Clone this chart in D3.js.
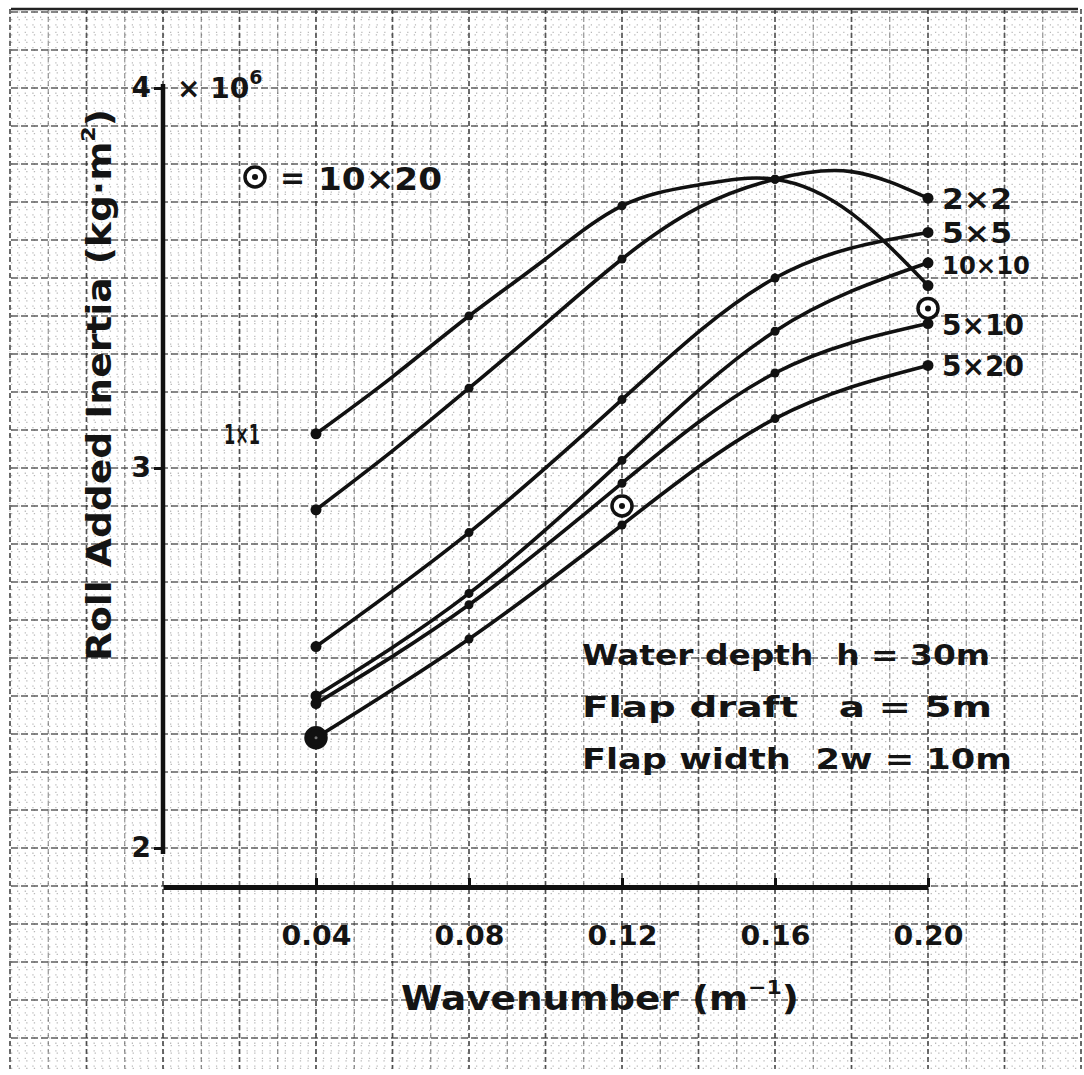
<!DOCTYPE html>
<html>
<head>
<meta charset="utf-8">
<script src="https://cdn.jsdelivr.net/npm/d3@7/dist/d3.min.js"></script>
<style>
  body { margin: 0; background: #fff; }
  svg { display: block; }
  text { font-family: 'DejaVu Sans', sans-serif; font-weight: bold; fill: #141414; }
</style>
</head>
<body>
<div class="chart"></div>
<script>
const width = 1084, height = 1075

// wavenumber (1/m)
const kMain = [0.04, 0.08, 0.12, 0.16, 0.20]
const kFine = [0.04, 0.06, 0.08, 0.10, 0.12, 0.14, 0.16, 0.18, 0.20]
const xTicks = [0.04, 0.08, 0.12, 0.16, 0.20]
const xTickLabels = ['0.04', '0.08', '0.12', '0.16', '0.20']
const yTicks = [2, 3, 4]
const yTickLabels = ['2', '3', '4']

// roll added inertia (x 10^6 kg m^2)
const inertia1x1 = [3.09, 3.24, 3.40, 3.55, 3.69, 3.745, 3.76, 3.67, 3.48]
const inertia2x2 = [2.89, 3.045, 3.21, 3.38, 3.55, 3.685, 3.76, 3.78, 3.71]
const inertia5x5 = [2.53, 2.83, 3.18, 3.50, 3.62]
const inertia10x10 = [2.40, 2.67, 3.02, 3.36, 3.54]
const inertia5x10 = [2.38, 2.64, 2.96, 3.25, 3.38]
const inertia5x20 = [2.29, 2.55, 2.85, 3.13, 3.27]

// 10x20 case only marked with circles
const k10x20 = [0.04, 0.12, 0.20]
const inertia10x20 = [2.29, 2.90, 3.42]

const notes = ['Water depth  h = 30m', 'Flap draft   a = 5m', 'Flap width  2w = 10m']

const series = [
    { name: '1×1', k: kFine, v: inertia1x1, side: 'left' },
    { name: '2×2', k: kFine, v: inertia2x2, side: 'right' },
    { name: '5×5', k: kMain, v: inertia5x5, side: 'right' },
    { name: '10×10', k: kMain, v: inertia10x10, side: 'right' },
    { name: '5×10', k: kMain, v: inertia5x10, side: 'right' },
    { name: '5×20', k: kMain, v: inertia5x20, side: 'right' }
]

const svg = d3.select('.chart').append('svg')
    .attr('width', width)
    .attr('height', height)

svg.append('rect').attr('width', width).attr('height', height).attr('fill', '#fff')

const x = d3.scaleLinear().domain([0, 0.2]).range([163, 928])
const y = d3.scaleLinear().domain([2, 4]).range([848, 88])

// graph paper
const paper = svg.append('g').attr('class', 'paper')
const paperLeft = 11, paperRight = 1078, paperTop = 9, paperBottom = 1069

const minorX = d3.range(-0.04, 0.2401, 0.002).map(x)
const minorY = d3.range(1.42, 4.201, 0.02).map(y)
paper.selectAll('.minor-v').data(minorX).enter().append('line')
    .attr('x1', d => d).attr('x2', d => d)
    .attr('y1', paperTop).attr('y2', paperBottom)
    .attr('stroke', '#888').attr('stroke-width', 1.2)
    .attr('stroke-opacity', 0.6)
    .attr('stroke-dasharray', '1.3,6.3')
paper.selectAll('.minor-h').data(minorY).enter().append('line')
    .attr('y1', d => d).attr('y2', d => d)
    .attr('x1', paperLeft).attr('x2', paperRight)
    .attr('stroke', '#888').attr('stroke-width', 1.2)
    .attr('stroke-opacity', 0.6)
    .attr('stroke-dasharray', '1.3,6.3')

const majorX = d3.range(-0.04, 0.2401, 0.01)
paper.selectAll('.major-v').data(majorX).enter().append('line')
    .attr('x1', d => x(d)).attr('x2', d => x(d))
    .attr('y1', paperTop).attr('y2', paperBottom)
    .attr('stroke', '#2a2a2a')
    .attr('stroke-width', (d, i) => i % 2 === 0 ? 1.7 : 1.1)
    .attr('stroke-opacity', (d, i) => i % 2 === 0 ? 0.8 : 0.55)
    .attr('stroke-dasharray', '5,3')
const majorY = d3.range(1.5, 4.201, 0.1)
paper.selectAll('.major-h').data(majorY).enter().append('line')
    .attr('y1', d => y(d)).attr('y2', d => y(d))
    .attr('x1', paperLeft).attr('x2', paperRight)
    .attr('stroke', '#2a2a2a').attr('stroke-width', 1.6)
    .attr('stroke-opacity', 0.75)
    .attr('stroke-dasharray', '7,3')
paper.append('line')
    .attr('x1', paperLeft).attr('x2', paperRight).attr('y1', paperTop).attr('y2', paperTop)
    .attr('stroke', '#222').attr('stroke-width', 2.5)

// axes
const xAxisY = y(2) + 39
const xAxis = svg.append('g')
    .attr('transform', `translate(0,${xAxisY})`)
    .call(d3.axisBottom(x).tickValues(xTicks)
        .tickFormat((d, i) => xTickLabels[i])
        .tickSizeInner(-9).tickSizeOuter(0).tickPadding(40))
xAxis.select('.domain').attr('stroke', '#111').attr('stroke-width', 5)
xAxis.selectAll('.tick line').attr('stroke', '#111').attr('stroke-width', 3)
xAxis.selectAll('.tick text')
    .attr('font-family', 'DejaVu Sans').attr('font-weight', 'bold')
    .attr('font-size', 26).attr('fill', '#141414')
    .attr('textLength', 70).attr('lengthAdjust', 'spacingAndGlyphs')

const yAxis = svg.append('g')
    .attr('transform', `translate(${x(0)},0)`)
    .call(d3.axisLeft(y).tickValues(yTicks)
        .tickFormat((d, i) => yTickLabels[i])
        .tickSizeInner(9).tickSizeOuter(0).tickPadding(3))
yAxis.select('.domain').attr('stroke', '#111').attr('stroke-width', 4.5)
    .attr('d', `M0,${y(4) - 4}V${y(2) + 6}`)
yAxis.selectAll('.tick line').attr('stroke', '#111').attr('stroke-width', 3)
yAxis.selectAll('.tick text')
    .attr('font-family', 'DejaVu Sans').attr('font-weight', 'bold')
    .attr('font-size', 28).attr('fill', '#141414')

// x 10^6 next to the top tick
const mult = svg.append('text')
    .attr('x', x(0) + 14).attr('y', y(4) + 10)
    .attr('font-size', 28)
mult.append('tspan').text('× 10')
mult.append('tspan').text('6').attr('font-size', 19).attr('dy', -14)

// axis titles
const yTitle = svg.append('text')
    .attr('transform', `translate(111,385) rotate(-90)`)
    .attr('text-anchor', 'middle')
    .attr('font-size', 34)
    .attr('textLength', 552).attr('lengthAdjust', 'spacingAndGlyphs')
yTitle.append('tspan').text('Roll  Added  Inertia  (kg·m')
yTitle.append('tspan').text('2').attr('font-size', 20).attr('dy', -16)
yTitle.append('tspan').text(')').attr('dy', 16)

const xTitle = svg.append('text')
    .attr('x', 600).attr('y', 1010)
    .attr('text-anchor', 'middle')
    .attr('font-size', 34)
    .attr('textLength', 398).attr('lengthAdjust', 'spacingAndGlyphs')
xTitle.append('tspan').text('Wavenumber  (m')
xTitle.append('tspan').text('−1').attr('font-size', 20).attr('dy', -16)
xTitle.append('tspan').text(')').attr('dy', 16)

// curves
const line = d3.line()
    .x(d => x(d[0]))
    .y(d => y(d[1]))
    .curve(d3.curveNatural)

const curves = svg.append('g').attr('class', 'curves')
series.forEach(s => {
    const pts = s.k.map((k, i) => [k, s.v[i]])
    curves.append('path')
        .attr('d', line(pts))
        .attr('fill', 'none')
        .attr('stroke', '#111')
        .attr('stroke-width', 3.6)
        .attr('stroke-linecap', 'round')
    curves.selectAll(null)
        .data(pts.filter(p => kMain.includes(p[0])))
        .enter().append('circle')
        .attr('cx', d => x(d[0]))
        .attr('cy', d => y(d[1]))
        .attr('r', (d, i) => i === 0 || d[0] === 0.2 ? 5.5 : 4.5)
        .attr('fill', '#111')

    const last = pts[pts.length - 1], first = pts[0]
    if (s.side === 'right') {
        svg.append('text')
            .attr('x', x(last[0]) + 14)
            .attr('y', y(last[1]) + 11)
            .attr('font-size', s.name.length > 4 ? 24 : 28)
            .attr('textLength', s.name.length > 4 ? 88 : (s.name.length > 3 ? 82 : 70))
            .attr('lengthAdjust', 'spacingAndGlyphs')
            .text(s.name)
    } else {
        svg.append('text')
            .attr('x', x(first[0]) - 56)
            .attr('y', y(first[1]) + 10)
            .attr('text-anchor', 'end')
            .attr('font-size', 26)
            .attr('textLength', 36)
            .attr('lengthAdjust', 'spacingAndGlyphs')
            .text(s.name)
    }
})

// 10x20 circle markers
function ringMarker(g, cx, cy, filled) {
    g.append('circle')
        .attr('cx', cx).attr('cy', cy).attr('r', 10)
        .attr('fill', filled ? '#111' : '#fff')
        .attr('stroke', '#111').attr('stroke-width', 3.5)
    g.append('circle')
        .attr('cx', cx).attr('cy', cy).attr('r', filled ? 1.5 : 3)
        .attr('fill', filled ? '#777' : '#111')
}
const rings = svg.append('g').attr('class', 'rings')
k10x20.forEach((k, i) => ringMarker(rings, x(k), y(inertia10x20[i]), i === 0))

// legend for the circle
ringMarker(svg, 255, 177, false)
svg.append('text').attr('x', 280).attr('y', 188)
    .attr('font-size', 30).text('=')
svg.append('text').attr('x', 318).attr('y', 190)
    .attr('font-size', 32)
    .attr('textLength', 124).attr('lengthAdjust', 'spacingAndGlyphs')
    .text('10×20')

// case parameters
svg.append('g').attr('class', 'notes')
    .selectAll('text')
    .data(notes)
    .enter().append('text')
    .attr('x', 582)
    .attr('y', (d, i) => 665 + i * 52)
    .attr('font-size', 29)
    .attr('textLength', (d, i) => [408, 410, 430][i])
    .attr('lengthAdjust', 'spacingAndGlyphs')
    .style('white-space', 'pre')
    .text(d => d)
</script>
</body>
</html>
